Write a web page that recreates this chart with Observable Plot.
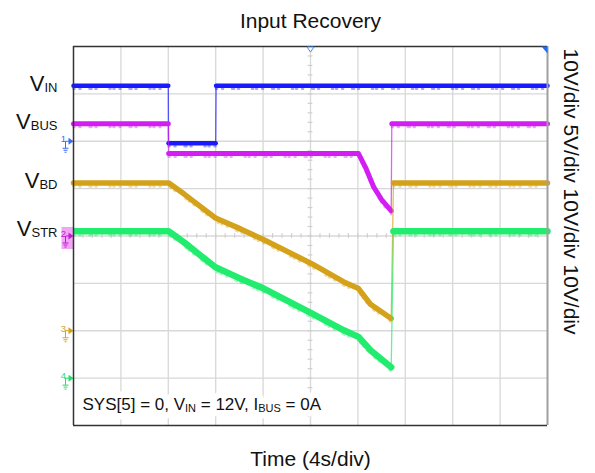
<!DOCTYPE html>
<html><head><meta charset="utf-8">
<script src="https://cdn.jsdelivr.net/npm/d3@7"></script>
<script src="https://cdn.jsdelivr.net/npm/@observablehq/plot@0.6"></script>
<style>html,body{margin:0;padding:0;background:#fff;}</style>
</head><body><div id="chart"></div>
<script>
// ---------- texts ----------
const title = "Input Recovery";
const xLabel = "Time (4s/div)";
const scaleLabel = "10V/div 5V/div 10V/div 10V/div";
const note = "SYS[5] = 0, V|IN| = 12V, I|BUS| = 0A";

// ---------- graticule (x in seconds, 4 s/div; y in divisions) ----------
const xDomain = [0, 40];
const yDomain = [0, 8];
const xGrid = [4, 8, 12, 16, 20, 24, 28, 32, 36];
const yGrid = [1, 2, 3, 4, 5, 6, 7];

// ---------- traces: [time (s), level (div), segment] ----------
const vin = [
  [0, 7.17, 0], [8.0, 7.17, 0],
  [8.02, 5.96, 1], [12.0, 5.96, 1],
  [12.03, 7.17, 2], [40, 7.17, 2]
];
const vbus = [
  [0, 6.37, 0], [8.0, 6.37, 0],
  [8.03, 5.74, 1], [24.05, 5.74, 1], [24.64, 5.45, 1], [25.34, 5.03, 1],
  [26.05, 4.75, 1], [26.81, 4.53, 1],
  [26.86, 6.37, 2], [40, 6.37, 2]
];
const vbd = [
  [0, 5.12, 0], [8.04, 5.12, 0], [9.31, 4.89, 0], [10.72, 4.62, 0], [11.98, 4.38, 0],
  [14.09, 4.15, 0], [16.06, 3.92, 0], [20.06, 3.42, 0], [22.81, 3.03, 0],
  [24.05, 2.89, 0], [25.06, 2.56, 0], [26.81, 2.26, 0],
  [27.0, 5.12, 1], [40, 5.12, 1]
];
const vstr = [
  [0, 4.10, 0], [8.04, 4.10, 0], [9.31, 3.87, 0], [10.72, 3.59, 0], [11.98, 3.34, 0],
  [14.09, 3.10, 0], [16.06, 2.89, 0], [20.06, 2.37, 0], [22.81, 2.01, 0],
  [24.05, 1.87, 0], [25.06, 1.59, 0], [26.81, 1.23, 0],
  [27.0, 4.10, 1], [40, 4.10, 1]
];

const traceNames = ["V|IN", "V|BUS", "V|BD", "V|STR"];
const traceColors = ["#1a1aff", "#d21ef2", "#d4a21a", "#22ec6e"];
const traceWidths = [4.5, 5, 5.5, 6.5];
const traceLevels = [7.17, 6.37, 5.12, 4.10];

// channel ground markers (div)
const channelIds = ["1", "2", "3", "4"];
const channelGrounds = [6, 4, 2, 1];
const channelColors = ["#3a6cff", "#c21ad6", "#d4a21a", "#22e06a"];

// ---------- build ----------
const traces = [vin, vbus, vbd, vstr];
const font = "'Liberation Sans', Arial, Helvetica, sans-serif";
const gridColor = "#d8d8d8";

const arrowSym = {draw(c) { c.moveTo(0, 0); c.lineTo(-5, -3.5); c.lineTo(-5, 3.5); c.closePath(); }};
const groundSym = {draw(c) {
  c.moveTo(-4, 0); c.lineTo(-8, 0); c.lineTo(-8, 7);
  c.moveTo(-11, 7); c.lineTo(-5, 7);
  c.moveTo(-10, 9); c.lineTo(-6, 9);
  c.moveTo(-9, 11); c.lineTo(-7, 11);
}};
const boxSym = {draw(c) { c.rect(-12, -9, 11.5, 22); }};
const trigSym = {draw(c) { c.moveTo(-3.5, 0.5); c.lineTo(3.5, 0.5); c.lineTo(0, 5.5); c.closePath(); }};
const cornerSym = {draw(c) { c.moveTo(0, 0); c.lineTo(-6, 0); c.lineTo(0, 7); c.closePath(); }};

const xMid = (xDomain[0] + xDomain[1]) / 2;
const yMid = (yDomain[0] + yDomain[1]) / 2;
const minorY = d3.range(yDomain[0], yDomain[1] + 1e-9, 0.2);
const minorX = d3.range(xDomain[0], xDomain[1] + 1e-9, 0.8);
const halfTickX = 0.2, halfTickY = 0.05;

const noteOpts = {frameAnchor: "bottom-left", textAnchor: "start", lineAnchor: "bottom", dx: 9, dy: -16, fontSize: 17};
const marks = [
  Plot.ruleX(xGrid, {stroke: gridColor, strokeWidth: 1.3}),
  Plot.ruleY(yGrid, {stroke: gridColor, strokeWidth: 1.3}),
  Plot.ruleY(minorY, {x1: xMid - halfTickX, x2: xMid + halfTickX, stroke: "#cfcfcf", strokeWidth: 1.2}),
  Plot.ruleX(minorX, {y1: yMid - halfTickY, y2: yMid + halfTickY, stroke: "#cfcfcf", strokeWidth: 1.2}),
  // white halo behind the annotation, then the annotation itself
  Plot.text([note], {...noteOpts, fill: "white", stroke: "white", strokeWidth: 13}),
  Plot.text([note], {...noteOpts, fill: "#111"}),
];

// traces: thin transitions, thick plateaus/slopes, fuzzy noise edge
traces.forEach((tr, i) => {
  const rows = tr.map(([t, v, seg]) => ({t, v, seg}));
  marks.push(Plot.line(rows, {x: "t", y: "v", stroke: traceColors[i], strokeWidth: 1.3, strokeOpacity: 0.7}));
  marks.push(Plot.line(rows, {x: "t", y: "v", z: "seg", stroke: traceColors[i], strokeWidth: 2.5, dy: traceWidths[i] / 2 + 0.8,
    strokeOpacity: 0.4, strokeDasharray: "1 5 1 9 2 4 1 13 1 3"}));
  marks.push(Plot.line(rows, {x: "t", y: "v", z: "seg", stroke: traceColors[i], strokeWidth: traceWidths[i],
    strokeLinejoin: "round"}));
});

// channel markers
channelIds.forEach((id, i) => {
  const d = [{id, g: channelGrounds[i]}];
  if (id === "2") marks.push(Plot.dot(d, {x: () => xDomain[0], y: "g", symbol: boxSym, fill: "#f2a4f5", stroke: "none"}));
  marks.push(Plot.dot(d, {x: () => xDomain[0], y: "g", symbol: arrowSym, fill: channelColors[i], stroke: "none"}));
  marks.push(Plot.dot(d, {x: () => xDomain[0], y: "g", symbol: groundSym, fill: "none", stroke: channelColors[i], strokeWidth: 1}));
  marks.push(Plot.text(d, {x: () => xDomain[0], y: "g", text: "id", dx: -10, dy: -2, fontSize: 9.5, fill: channelColors[i]}));
});

// left trace labels
marks.push(Plot.text(traceNames.map((n, i) => ({n, y: traceLevels[i]})), {
  frameAnchor: "left", y: "y", text: "n", textAnchor: "end", dx: -16, dy: -2, fontSize: 22, fill: "#111"}));

// frame borders and markers
marks.push(
  Plot.ruleX([xDomain[1]], {stroke: "#a0a0a0", strokeWidth: 2}),
  Plot.ruleX([xDomain[0]], {stroke: "#333", strokeWidth: 1.5}),
  Plot.ruleY([yDomain[0], yDomain[1]], {stroke: "#333", strokeWidth: 1.5}),
  Plot.dot([xMid], {x: d => d, y: () => yDomain[1], symbol: trigSym, fill: "white", stroke: "#3a8cff", strokeWidth: 1}),
  Plot.dot([0], {x: () => xDomain[1], y: () => yDomain[1], symbol: cornerSym, fill: "#1a6cff", stroke: "none"}),
  Plot.text([title], {frameAnchor: "top", lineAnchor: "bottom", dy: -19, fontSize: 21, fill: "#111"}),
  Plot.text([xLabel], {frameAnchor: "bottom", lineAnchor: "bottom", dy: 40, fontSize: 21, fill: "#111"}),
  Plot.text([scaleLabel], {frameAnchor: "top-right", rotate: 90, textAnchor: "start", lineAnchor: "bottom",
    dx: 16, dy: 2, fontSize: 21, fill: "#111"})
);

const chart = Plot.plot({
  width: 595, height: 473,
  marginLeft: 73, marginRight: 48, marginTop: 46, marginBottom: 48,
  x: {domain: xDomain, axis: null},
  y: {domain: yDomain, axis: null},
  style: {fontFamily: font, background: "white", overflow: "visible"},
  marks
});

// subscripts: parts between "|" at odd positions are subscripts
function subscriptify(svg, subSize, shift) {
  svg.querySelectorAll("text").forEach(t => {
    if (!t.textContent.includes("|")) return;
    const parts = t.textContent.split("|");
    t.textContent = "";
    let shifted = false;
    parts.forEach((p, i) => {
      if (!p) return;
      const ts = document.createElementNS("http://www.w3.org/2000/svg", "tspan");
      ts.textContent = p;
      if (i % 2 === 1) { ts.setAttribute("font-size", subSize(t)); ts.setAttribute("dy", shift(t)); shifted = true; }
      else if (shifted) { ts.setAttribute("dy", -shift(t)); shifted = false; }
      t.appendChild(ts);
    });
  });
}
const isNote = t => t.textContent.startsWith("SYS");
subscriptify(chart, t => isNote(t) ? 11 : 13, t => isNote(t) ? 2 : 1);

document.getElementById("chart").appendChild(chart);
</script>
</body></html>
